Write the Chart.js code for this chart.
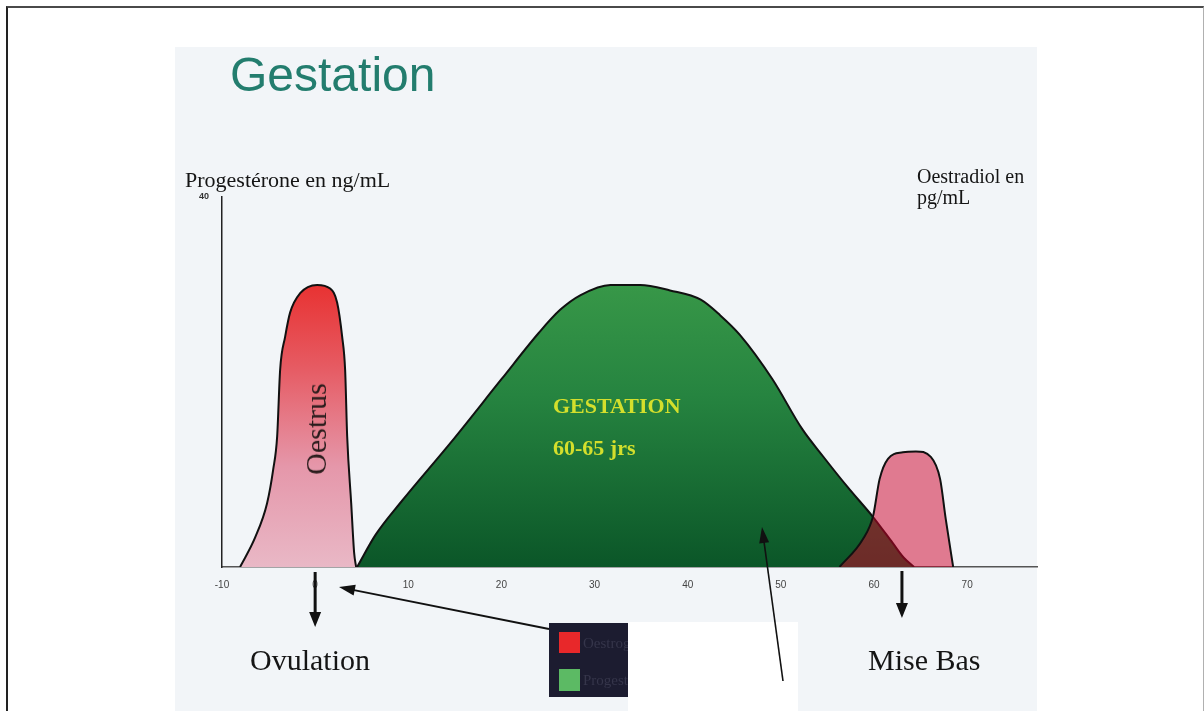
<!DOCTYPE html>
<html lang="fr">
<head>
<meta charset="UTF-8">
<title>Gestation</title>
<script src="https://cdn.jsdelivr.net/npm/chart.js"></script>
<style>
  body { margin: 0; background: #fff; width: 1204px; height: 711px; overflow: hidden; position: relative; }
  .frame { position: absolute; left: 6px; top: 6px; width: 1195px; height: 720px;
           border-top: 2px solid #4a4a4a; border-left: 2px solid #222; border-right: 1px solid #b0b0b0; }
  .slide { position: absolute; left: 175px; top: 47px; width: 862px; height: 664px; background: #f2f5f8; }
  #chart { position: absolute; left: 0; top: 0; z-index: 1; }
  .txt { position: absolute; z-index: 2; white-space: nowrap; line-height: 1; }
  .serif { font-family: "Liberation Serif", "Times New Roman", serif; color: #151515; }
  .title { left: 230px; top: 51px; font: 48px "Liberation Sans", Arial, sans-serif; color: #237d6e; line-height: 1; }
  .leg { position: absolute; z-index: 2; width: 45px; overflow: hidden; white-space: nowrap;
         font: 15px "Liberation Serif", serif; color: #35354a; line-height: 1; }
</style>
</head>
<body>
<div class="frame"></div>
<div class="slide"></div>
<canvas id="chart" width="1204" height="711"></canvas>

<div class="txt title">Gestation</div>
<div class="txt serif" style="left:185px; top:169px; font-size:22px;">Progestérone en ng/mL</div>
<div class="txt serif" style="left:917px; top:166px; font-size:20px; line-height:21px;">Oestradiol en<br>pg/mL</div>
<div class="txt serif" style="left:316px; top:429px; font-size:30px; color:#2a1c1c; transform:translate(-50%,-50%) rotate(-90deg);">Oestrus</div>
<div class="txt serif" style="left:553px; top:395px; font-size:22px; font-weight:bold; color:#d4df2c;">GESTATION</div>
<div class="txt serif" style="left:553px; top:437px; font-size:22px; font-weight:bold; color:#d4df2c;">60-65 jrs</div>
<div class="txt serif" style="left:250px; top:645px; font-size:30px;">Ovulation</div>
<div class="txt serif" style="left:868px; top:645px; font-size:30px;">Mise Bas</div>
<div class="leg" style="left:583px; top:636px;">Oestrogènes</div>
<div class="leg" style="left:583px; top:673px;">Progestérone</div>

<script>
// jours (axe x) et taux
const oestrusDays = [-8.06, -6.44, -5.16, -4.51, -4.08, -3.76, -3.22, -2.69, -1.61, 0.21, 1.61, 2.36, 2.9, 3.22, 3.44, 3.87, 4.19, 4.4];
const oestrusLevels = [0, 3.2, 6.9, 10.5, 14.1, 21.3, 24.9, 27.5, 29.6, 30.5, 30.1, 28.6, 24.9, 21.3, 14.1, 6.9, 1.5, 0];

const progDays = [4.5, 6.5, 9.2, 14.6, 20.0, 24.0, 26.3, 28.5, 31.7, 34.9, 38.1, 41.4, 43.5, 45.6, 49.1, 52.3, 54.5, 57.2, 59.9, 62.0, 63.2, 64.3];
const progLevels = [0, 3.5, 7.0, 13.5, 20.3, 25.3, 27.8, 29.4, 30.5, 30.5, 29.9, 28.9, 27.2, 25.1, 20.3, 14.9, 12.0, 8.6, 5.4, 2.6, 1.0, 0];

const miseBasDays = [56.3, 58.8, 59.9, 60.6, 61.5, 63.1, 64.5, 66.1, 67.1, 67.7, 68.5];
const miseBasLevels = [0, 3.0, 5.5, 9.5, 11.7, 12.4, 12.5, 11.9, 9.5, 5.2, 0];

const xTickValues = [-10, 0, 10, 20, 30, 40, 50, 60, 70];
const yTickValues = [40];

const toPoints = (xs, ys) => xs.map((x, i) => ({ x: x, y: ys[i] }));

function gradient(ctx, stops) {
    const chart = ctx.chart;
    if (!chart.chartArea) return null;
    const y = chart.scales.y;
    const g = chart.ctx.createLinearGradient(0, y.getPixelForValue(31), 0, y.getPixelForValue(0));
    stops.forEach(s => g.addColorStop(s[0], s[1]));
    return g;
}

function arrow(c, x1, y1, x2, y2, lw, headLen, headW) {
    const a = Math.atan2(y2 - y1, x2 - x1);
    c.save();
    c.strokeStyle = '#111';
    c.fillStyle = '#111';
    c.lineWidth = lw;
    c.beginPath();
    c.moveTo(x1, y1);
    c.lineTo(x2 - Math.cos(a) * headLen * 0.8, y2 - Math.sin(a) * headLen * 0.8);
    c.stroke();
    c.translate(x2, y2);
    c.rotate(a);
    c.beginPath();
    c.moveTo(0, 0);
    c.lineTo(-headLen, -headW / 2);
    c.lineTo(-headLen, headW / 2);
    c.closePath();
    c.fill();
    c.restore();
}

// fleches, legende et cache blanc
const annotations = {
    id: 'annotations',
    afterDraw(chart) {
        const c = chart.ctx;
        const xs = chart.scales.x;
        const base = chart.chartArea.bottom;

        c.save();
        c.fillStyle = '#1c1c30';
        c.fillRect(549, 623, 80, 74);
        c.fillStyle = '#e8282a';
        c.fillRect(559, 632, 21, 21);
        c.fillStyle = '#5cba64';
        c.fillRect(559, 669, 21, 22);
        c.fillStyle = '#ffffff';
        c.fillRect(628, 622, 170, 89);
        c.restore();

        arrow(c, xs.getPixelForValue(0), base + 5, xs.getPixelForValue(0), 627, 3, 15, 12);
        arrow(c, xs.getPixelForValue(63.0), base + 4, xs.getPixelForValue(63.0), 618, 3, 15, 12);
        arrow(c, 549, 629, 339, 587, 1.8, 16, 11);
        arrow(c, 783, 681, 762, 527, 1.6, 16, 10);
    }
};

new Chart(document.getElementById('chart'), {
    type: 'line',
    data: {
        datasets: [
            {
                label: 'Oestrogènes (mise bas)',
                data: toPoints(miseBasDays, miseBasLevels),
                borderColor: '#111',
                borderWidth: 2,
                backgroundColor: 'rgba(205, 0, 40, 0.5)',
                fill: 'origin',
                pointRadius: 0,
                cubicInterpolationMode: 'monotone'
            },
            {
                label: 'Progestérone',
                data: toPoints(progDays, progLevels),
                borderColor: '#111',
                borderWidth: 2,
                backgroundColor: ctx => gradient(ctx, [[0, '#389848'], [0.4, '#268440'], [1, '#0b5628']]),
                fill: 'origin',
                pointRadius: 0,
                cubicInterpolationMode: 'monotone'
            },
            {
                label: 'Oestrogènes (oestrus)',
                data: toPoints(oestrusDays, oestrusLevels),
                borderColor: '#111',
                borderWidth: 2,
                backgroundColor: ctx => gradient(ctx, [[0, '#e8302f'], [0.3, '#e65a62'], [0.65, '#e597aa'], [1, '#e9b8c6']]),
                fill: 'origin',
                pointRadius: 0,
                cubicInterpolationMode: 'monotone'
            }
        ]
    },
    options: {
        responsive: false,
        animation: false,
        devicePixelRatio: 1,
        layout: { padding: { left: 192, right: 167, top: 197, bottom: 114 } },
        plugins: { legend: { display: false }, tooltip: { enabled: false } },
        scales: {
            x: {
                type: 'linear',
                min: -10,
                max: 77.5,
                afterBuildTicks: s => { s.ticks = xTickValues.map(v => ({ value: v })); },
                afterFit: s => { s.height = 30; },
                grid: { display: false, drawTicks: false },
                border: { color: '#555', width: 1.5 },
                ticks: { padding: 12, autoSkip: false, maxRotation: 0, color: '#444',
                         font: { family: 'Liberation Sans', size: 10 } }
            },
            y: {
                min: 0,
                max: 40,
                afterBuildTicks: s => { s.ticks = yTickValues.map(v => ({ value: v })); },
                afterFit: s => { s.width = 30; },
                grid: { display: false, drawTicks: false },
                border: { color: '#222', width: 1.5 },
                ticks: { padding: 13, color: '#333', font: { family: 'Liberation Sans', size: 9, weight: 'bold' } }
            }
        }
    },
    plugins: [annotations]
});
</script>
</body>
</html>
